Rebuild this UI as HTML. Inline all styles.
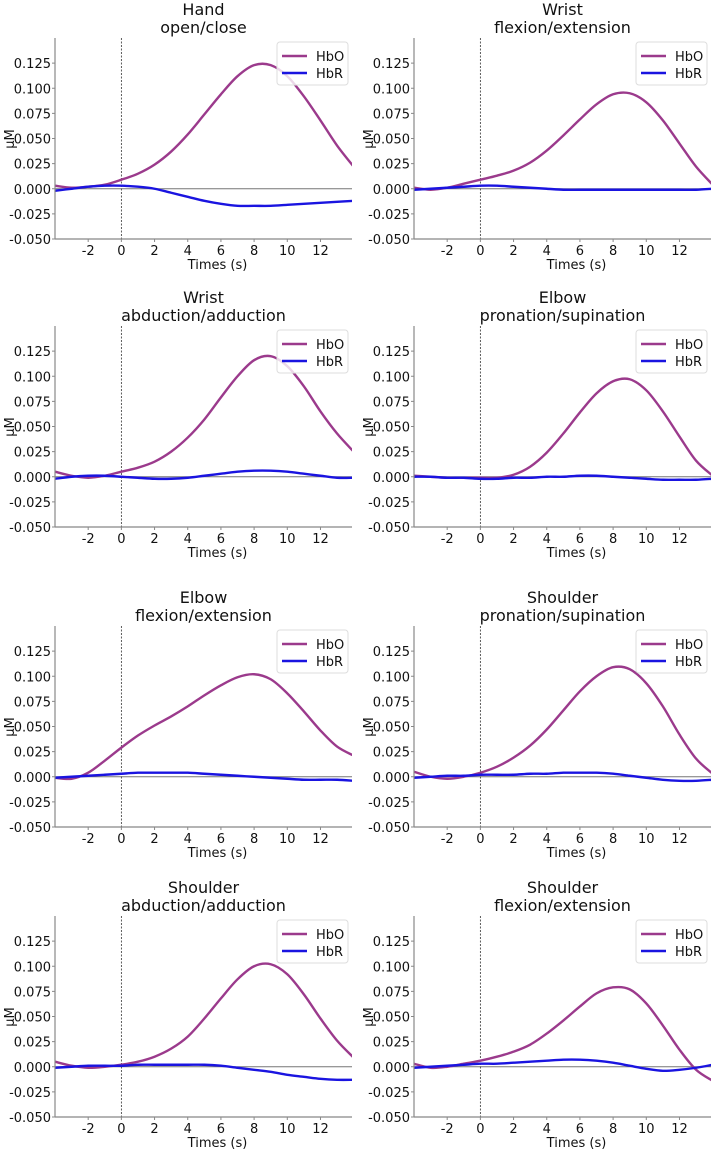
<!DOCTYPE html>
<html><head><meta charset="utf-8"><style>
body{margin:0;background:#fff;}
svg{display:block;font-family:"DejaVu Sans","Liberation Sans",sans-serif;}
</style></head><body>
<svg id="fig" width="716" height="1149" viewBox="0 0 716 1149" xmlns="http://www.w3.org/2000/svg"></svg>
<script>
const times=[-4,-3,-2,-1,0,1,2,3,4,5,6,7,8,9,10,11,12,13,14];
const titles=[["Hand","open/close"],["Wrist","flexion/extension"],["Wrist","abduction/adduction"],["Elbow","pronation/supination"],["Elbow","flexion/extension"],["Shoulder","pronation/supination"],["Shoulder","abduction/adduction"],["Shoulder","flexion/extension"]];
const hboHandOpen=[0.003,0.001,0.002,0.004,0.009,0.015,0.024,0.037,0.054,0.074,0.094,0.112,0.123,0.123,0.112,0.092,0.068,0.043,0.022];
const hbrHandOpen=[-0.002,0,0.002,0.003,0.003,0.002,0,-0.004,-0.008,-0.012,-0.015,-0.017,-0.017,-0.017,-0.016,-0.015,-0.014,-0.013,-0.012];
const hboWristFlex=[0.001,-0.001,0.001,0.005,0.009,0.013,0.018,0.026,0.038,0.053,0.069,0.084,0.094,0.095,0.086,0.068,0.045,0.022,0.004];
const hbrWristFlex=[-0.001,0,0.001,0.002,0.003,0.003,0.002,0.001,0,-0.001,-0.001,-0.001,-0.001,-0.001,-0.001,-0.001,-0.001,-0.001,0];
const hboWristAbd=[0.005,0.001,-0.001,0.001,0.005,0.009,0.015,0.025,0.039,0.057,0.079,0.1,0.116,0.12,0.11,0.09,0.065,0.043,0.025];
const hbrWristAbd=[-0.002,0,0.001,0.001,0,-0.001,-0.002,-0.002,-0.001,0.001,0.003,0.005,0.006,0.006,0.005,0.003,0.001,-0.001,-0.001];
const hboElbowPron=[0.001,0,-0.001,-0.001,-0.001,-0.001,0.002,0.01,0.024,0.043,0.064,0.083,0.095,0.097,0.086,0.065,0.04,0.016,0.001];
const hbrElbowPron=[0,0,-0.001,-0.001,-0.002,-0.002,-0.001,-0.001,0,0,0.001,0.001,0,-0.001,-0.002,-0.003,-0.003,-0.003,-0.002];
const hboElbowFlex=[-0.001,-0.002,0.004,0.016,0.029,0.041,0.051,0.06,0.07,0.081,0.091,0.099,0.102,0.097,0.083,0.065,0.046,0.03,0.021];
const hbrElbowFlex=[-0.001,0,0.001,0.002,0.003,0.004,0.004,0.004,0.004,0.003,0.002,0.001,0,-0.001,-0.002,-0.003,-0.003,-0.003,-0.004];
const hboShoulderPron=[0.005,0,-0.002,0,0.004,0.01,0.019,0.031,0.047,0.066,0.085,0.1,0.109,0.107,0.093,0.07,0.042,0.018,0.003];
const hbrShoulderPron=[-0.001,0,0.001,0.001,0.002,0.002,0.002,0.003,0.003,0.004,0.004,0.004,0.003,0.001,-0.001,-0.003,-0.004,-0.004,-0.003];
const hboShoulderAbd=[0.005,0.001,-0.001,0,0.002,0.005,0.01,0.018,0.03,0.048,0.068,0.087,0.1,0.102,0.092,0.072,0.048,0.026,0.009];
const hbrShoulderAbd=[-0.001,0,0.001,0.001,0.001,0.002,0.002,0.002,0.002,0.002,0.001,-0.001,-0.003,-0.005,-0.008,-0.01,-0.012,-0.013,-0.013];
const hboShoulderFlex=[0.003,-0.001,0,0.003,0.006,0.01,0.015,0.022,0.033,0.046,0.06,0.073,0.079,0.077,0.063,0.041,0.017,-0.003,-0.014];
const hbrShoulderFlex=[-0.001,0,0.001,0.002,0.003,0.003,0.004,0.005,0.006,0.007,0.007,0.006,0.004,0.001,-0.002,-0.004,-0.003,-0.001,0.002];
const hboAll=[hboHandOpen,hboWristFlex,hboWristAbd,hboElbowPron,hboElbowFlex,hboShoulderPron,hboShoulderAbd,hboShoulderFlex];
const hbrAll=[hbrHandOpen,hbrWristFlex,hbrWristAbd,hbrElbowPron,hbrElbowFlex,hbrShoulderPron,hbrShoulderAbd,hbrShoulderFlex];
const yTicks=[-0.05,-0.025,0,0.025,0.05,0.075,0.1,0.125];
const yTickLabels=["-0.050","-0.025","0.000","0.025","0.050","0.075","0.100","0.125"];
const xTicks=[-2,0,2,4,6,8,10,12];

const NS="http://www.w3.org/2000/svg";
const fig=document.getElementById('fig');
function mk(tag,attrs,parent,text){const e=document.createElementNS(NS,tag);for(const k in attrs)e.setAttribute(k,attrs[k]);if(text!==undefined)e.textContent=text;parent.appendChild(e);return e;}
const rowOff=[0,288,588,878], colOff=[0,359];
const XMIN=-4,XMAX=13.9,YMIN=-0.05,YMAX=0.15;
const W=297,H=201;
function smooth(pts){let d="M"+pts[0][0].toFixed(2)+","+pts[0][1].toFixed(2);
 for(let i=0;i<pts.length-1;i++){const p0=pts[Math.max(0,i-1)],p1=pts[i],p2=pts[i+1],p3=pts[Math.min(pts.length-1,i+2)];
 const c1=[p1[0]+(p2[0]-p0[0])/6,p1[1]+(p2[1]-p0[1])/6],c2=[p2[0]-(p3[0]-p1[0])/6,p2[1]-(p3[1]-p1[1])/6];
 d+=" C"+c1.map(v=>v.toFixed(2)).join(",")+" "+c2.map(v=>v.toFixed(2)).join(",")+" "+p2[0].toFixed(2)+","+p2[1].toFixed(2);}
 return d;}
for(let p=0;p<8;p++){
 const L=55+colOff[p%2], T=38+rowOff[Math.floor(p/2)];
 const sx=t=>L+(t-XMIN)/(XMAX-XMIN)*W;
 const sy=v=>T+(YMAX-v)/(YMAX-YMIN)*H;
 const g=mk('g',{},fig);
 
 
 const cx=L+W/2;
 const t1=mk('text',{x:cx,y:T-23,'text-anchor':'middle','font-size':16,fill:'#111'},g,titles[p][0]);
 
 const t2=mk('text',{x:cx,y:T-5,'text-anchor':'middle','font-size':16,fill:'#111'},g,titles[p][1]);
 
 const cid='clip'+p;
 const cp=mk('clipPath',{id:cid},g);mk('rect',{x:L,y:T,width:W,height:H},cp);
 // zero line
 const zl=mk('line',{x1:L,x2:L+W,y1:sy(0),y2:sy(0),stroke:'#777','stroke-width':1},g);
 
 const vl=mk('line',{x1:sx(0),x2:sx(0),y1:T,y2:T+H,stroke:'#333','stroke-width':0.8,'stroke-dasharray':'2,1.5'},g);
 
 // series
 const cl=mk('g',{'clip-path':'url(#'+cid+')'},g);
 const po=mk('path',{d:smooth(times.map((t,i)=>[sx(t),sy(hboAll[p][i])])),fill:'none',stroke:'#9b3a8c','stroke-width':2.4},cl);
 
 const pr=mk('path',{d:smooth(times.map((t,i)=>[sx(t),sy(hbrAll[p][i])])),fill:'none',stroke:'#1a14e0','stroke-width':2.4},cl);
 
 // spines
 const ls=mk('line',{x1:L,x2:L,y1:T,y2:T+H,stroke:'#888','stroke-width':1.2},g);
 
 const bs=mk('line',{x1:L,x2:L+W,y1:T+H,y2:T+H,stroke:'#888','stroke-width':1.2},g);
 
 yTicks.forEach((v,i)=>{mk('line',{x1:L-3,x2:L,y1:sy(v),y2:sy(v),stroke:'#888'},g);
  const tt=mk('text',{x:L-4,y:sy(v)+5,'text-anchor':'end','font-size':13,fill:'#111'},g,yTickLabels[i]);
  });
 xTicks.forEach(v=>{mk('line',{x1:sx(v),x2:sx(v),y1:T+H,y2:T+H+3,stroke:'#888'},g);
  const tt=mk('text',{x:sx(v),y:T+H+16,'text-anchor':'middle','font-size':13,fill:'#111'},g,String(v));
  });
 const xl=mk('text',{x:L+W/2+14,y:T+H+30,'text-anchor':'middle','font-size':13,fill:'#111'},g,'Times (s)');
 
 const yl=mk('text',{x:0,y:0,'text-anchor':'middle','font-size':13,fill:'#111',transform:'translate('+(L-41+colOff[0]*0)+','+(T+101)+') rotate(-90)'},g,'μM');
 
 // legend
 const lg=mk('g',{},g);
 
 const lx=L+222;
 mk('rect',{x:lx,y:T+4,width:71,height:43,rx:3,fill:'#fff','fill-opacity':0.8,stroke:'#ddd'},lg);
 mk('line',{x1:lx+5,x2:lx+30,y1:T+18,y2:T+18,stroke:'#9b3a8c','stroke-width':2.4},lg);
 mk('text',{x:lx+39,y:T+23,'font-size':13,fill:'#111'},lg,'HbO');
 mk('line',{x1:lx+5,x2:lx+30,y1:T+35,y2:T+35,stroke:'#1a14e0','stroke-width':2.4},lg);
 mk('text',{x:lx+39,y:T+40,'font-size':13,fill:'#111'},lg,'HbR');
}
</script>
</body></html>
